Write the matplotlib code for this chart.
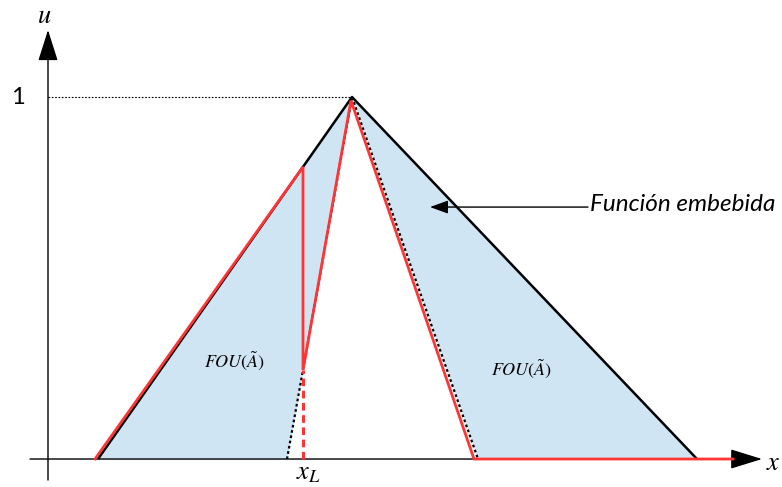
import numpy as np
import matplotlib
matplotlib.use('Agg')
import matplotlib.pyplot as plt

plt.rcParams['mathtext.fontset'] = 'stix'

# Upper membership function (triangle) and lower membership function
upper_x = [1.0, 6.08, 12.98]
upper_u = [0.0, 1.0, 0.0]
lower_x = [4.78, 6.08, 8.6]
lower_u = [0.0, 1.0, 0.0]

# Embedded function: start, switching point x_L, peak, foot, end
x_L = 5.1
emb_start = 0.94
emb_peak = (6.06, 0.99)
emb_foot = 8.52
x_end = 13.7

blue = '#d0e5f3'
red = '#ff3535'

fig = plt.figure(figsize=(7.82, 4.87), dpi=100)
ax = fig.add_axes([0, 0, 1, 1])
ax.set_xlim(-0.96, 14.68)
ax.set_ylim(-0.0773, 1.268)
ax.axis('off')

# Footprint of uncertainty between the two membership functions
xs = np.linspace(upper_x[0], upper_x[-1], 800)
up = np.interp(xs, upper_x, upper_u)
lo = np.interp(xs, lower_x, lower_u, left=0, right=0)
ax.fill_between(xs, lo, up, color=blue, lw=0, zorder=1)

# follows upper MF up to x_L, jumps down to lower MF
u_hi = np.interp(x_L, upper_x, upper_u)
u_lo = np.interp(x_L, lower_x, lower_u)
emb_x = [emb_start, x_L, x_L, emb_peak[0], emb_foot, x_end]
emb_u = [0, u_hi, u_lo, emb_peak[1], 0, 0]

ax.plot(upper_x, upper_u, color='black', lw=1.8, zorder=3, solid_capstyle='butt')
ax.plot(lower_x, lower_u, color='black', lw=1.6, ls=(0, (1.2, 1.2)), zorder=3)
ax.plot(emb_x, emb_u, color=red, lw=2.0, zorder=4, solid_joinstyle='miter')
ax.plot([x_L, x_L], [0, u_lo], color=red, lw=2.2, ls=(0, (2.5, 1.5)), zorder=4)

# Level u = 1
ax.plot([0, lower_x[1]], [1, 1], color='black', lw=0.8, ls=(0, (1.5, 1.5)), zorder=2)

# Axes with arrow heads
ax.annotate('', xy=(0, 1.185), xytext=(0, -0.058),
            arrowprops=dict(arrowstyle='-|>,head_length=1.95,head_width=0.62',
                            mutation_scale=10, lw=1.0, color='black',
                            shrinkA=0, shrinkB=0), zorder=5)
ax.annotate('', xy=(14.28, 0), xytext=(-0.36, 0),
            arrowprops=dict(arrowstyle='-|>,head_length=2.0,head_width=0.62',
                            mutation_scale=10, lw=1.0, color='black',
                            shrinkA=0, shrinkB=0), zorder=3)

ax.text(-0.08, 1.225, r'$u$', fontsize=19, ha='center', va='center')
ax.text(-0.6, 1.0, '1', fontsize=17, family='Lato', ha='center', va='center')
ax.text(14.5, -0.012, r'$x$', fontsize=19, ha='center', va='center')
ax.text(x_L + 0.1, -0.036, r'$x_L$', fontsize=19, ha='center', va='center')

fou = r'$FOU\left(\tilde{A}\right)$'
ax.text(3.74, 0.27, fou, fontsize=13, ha='center', va='center')
ax.text(9.48, 0.25, fou, fontsize=13, ha='center', va='center')

# Label for the embedded function
ax.annotate('', xy=(7.64, 0.696), xytext=(10.8, 0.696),
            arrowprops=dict(arrowstyle='-|>,head_length=1.1,head_width=0.4',
                            mutation_scale=10, lw=1.0, color='black',
                            shrinkA=0, shrinkB=0), zorder=5)
ax.text(10.84, 0.702, 'Función embebida', fontsize=17.5, family='Lato',
        style='italic', ha='left', va='center')

fig.savefig('out.png', dpi=100)
